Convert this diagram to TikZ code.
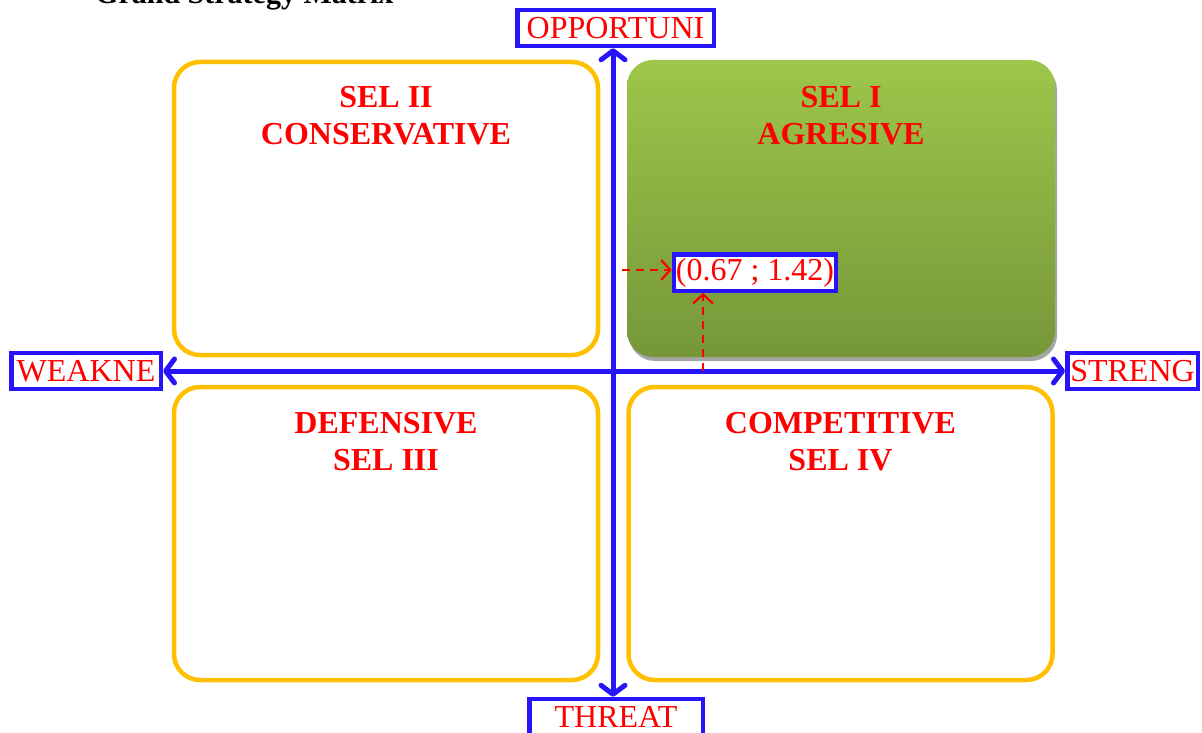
\documentclass[tikz,border=0pt]{standalone}
\usepackage{fontspec}
\setmainfont{Liberation Serif}
\usepackage{xcolor}
\usetikzlibrary{arrows.meta, shapes, shadows, positioning, calc}
\definecolor{axblue}{RGB}{40,20,250}
\definecolor{selyellow}{RGB}{255,192,0}
\definecolor{seltop}{RGB}{157,198,74}
\definecolor{selbot}{RGB}{118,151,57}

\begin{document}
\begin{tikzpicture}[x=1pt, y=-1pt,
    lbl/.style={draw=axblue, line width=4.5pt, fill=white, text=red, font=\fontsize{32}{36}\selectfont, inner xsep=2pt, inner ysep=0pt, minimum height=36pt},
    sel/.style={rounded corners=26pt, minimum width=424pt, minimum height=293pt},
    selbox/.style={sel, draw=selyellow, line width=4.5pt},
    ttl/.style={text=red, font=\fontsize{32}{37}\selectfont\bfseries, align=center, inner sep=0pt},
    ax/.style={draw=axblue, line width=5pt, {Straight Barb[round,length=9pt,width=24pt]}-{Straight Barb[round,length=9pt,width=24pt]}},
    dsh/.style={draw=red, line width=2.2pt, dash pattern=on 8pt off 6pt, -{Straight Barb[length=9pt,width=20pt]}}]
  \useasboundingbox (0,0) rectangle (1202,733);

  % judul (terpotong)
  \node[anchor=base west, font=\fontsize{30}{30}\selectfont\bfseries, inner sep=0pt] (cap) at (95,4) {Grand Strategy Matrix};

  % kuadran
  \node[selbox] (q2) at (386,208.5) {};
  \node[selbox] (q3) at (386,533.5) {};
  \node[selbox] (q4) at (840.5,533.5) {};
  \node[sel, minimum width=428pt, minimum height=297pt, top color=seltop, bottom color=selbot,
        drop shadow={shadow xshift=2pt, shadow yshift=-4pt, fill=black!35, opacity=1}] (q1) at (841,208.5) {};

  \node[ttl, below=26pt of q2.north] (t2) {SEL II\\CONSERVATIVE};
  \node[ttl, below=26pt of q1.north] (t1) {SEL I\\AGRESIVE};
  \node[ttl, below=27pt of q3.north] (t3) {DEFENSIVE\\SEL III};
  \node[ttl, below=27pt of q4.north] (t4) {COMPETITIVE\\SEL IV};

  % sumbu
  \coordinate (ctr) at (613,371);
  \node[lbl, minimum width=196.5pt] (opp) at (615.5,28) {OPPORTUNI};
  \node[lbl, minimum width=149.5pt] (weak) at (86,371) {WEAKNE};
  \node[lbl, minimum width=130.5pt] (str) at (1132.5,371) {STRENG};
  \node[lbl, minimum width=173.5pt] (thr) at (616,717) {THREAT};
  \draw[ax] (weak) -- (str);
  \draw[ax] (thr.north -| ctr) -- (opp.south -| ctr);

  % posisi
  \node[lbl, minimum width=161.5pt, minimum height=36.5pt] (pt) at (755,272.5) {(0.67 ; 1.42)};
  \coordinate (hx) at (622,270);
  \coordinate (vx) at (703,371);
  \draw[dsh] (hx) -- (pt.west |- hx);
  \draw[dsh] (vx) -- (vx |- pt.south);
\end{tikzpicture}
\end{document}
